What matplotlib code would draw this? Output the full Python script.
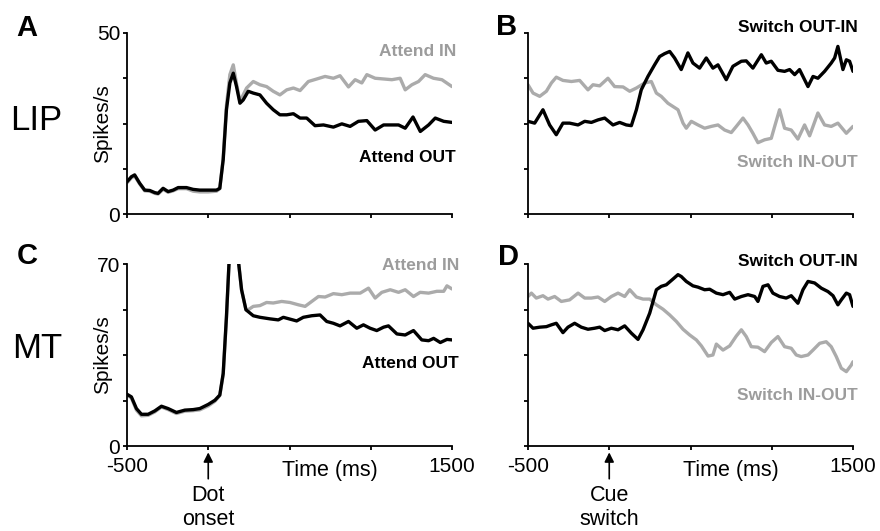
import matplotlib
matplotlib.use("Agg")
import matplotlib.pyplot as plt

plt.rcParams['font.family'] = ['Liberation Sans', 'DejaVu Sans']

# ---------------- data ----------------
A_black_t = [-500,-473,-453,-422,-391,-360,-329,-309,-278,-247,-216,-185,-134,-93,-52,0,51,71,92,112,
             133,154,174,195,215,246,277,318,359,400,441,483,524,565,606,657,709,770,822,873,
             924,976,1027,1079,1171,1212,1260,1305,1356,1397,1449,1500]
A_black_v = [8.9,10.3,10.8,8.5,6.6,6.5,5.9,5.7,7.1,6.2,6.6,7.3,7.3,6.8,6.6,6.6,6.6,7.1,15,28.8,
             36.2,38.9,35.2,30.6,31.5,33.9,33.4,32.9,30.6,28.8,27.4,27.4,27.7,26.5,26.5,24.4,24.6,24.0,24.9,24.2,
             25.6,25.8,23.2,24.6,24.6,23.7,26.8,22.8,24.6,26.5,25.6,25.3]
A_gray_t = [-500,-473,-453,-422,-391,-360,-329,-309,-278,-247,-216,-185,-134,-93,-52,0,51,71,92,112,
            133,154,174,195,236,277,318,359,400,441,483,524,565,616,668,719,770,811,863,904,
            945,976,1027,1079,1130,1181,1212,1253,1294,1335,1386,1438,1500]
A_gray_v = [8.6,10.0,10.5,8.3,6.4,6.3,5.7,5.5,6.8,6.0,6.4,7.0,7.0,6.3,6.1,6.1,6.3,7.0,15.5,30,
            38.5,41.2,36,31.1,34.8,36.6,35.7,35.2,33.9,32.9,34.3,34.8,34.1,36.6,37.3,38.0,37.5,38.2,35.1,37.1,
            36.2,38.5,37.5,37.3,37.1,37.5,34.3,35.7,36.6,38.5,37.5,37.1,35.2]

B_black_t = [-500,-459,-408,-367,-326,-285,-244,-192,-151,-110,-69,-28,23,64,105,136,167,197,238,279,
             310,341,372,402,443,484,515,556,597,638,669,720,761,813,843,884,936,966,997,1038,
             1079,1110,1141,1171,1223,1254,1284,1325,1366,1387,1407,1438,1459,1479,1500]
B_black_v = [25.6,25.1,28.8,24.6,21.9,25.1,25.1,24.6,25.6,25.3,26.0,26.5,24.6,25.3,24.6,24.4,28.8,34.3,38.0,41.2,
             43.5,44.3,44.9,43.1,39.9,44.5,41.7,40.3,43.1,40.3,41.2,37.1,40.8,42.2,42.3,40.3,44.0,41.7,42.2,39.7,
             39.4,39.9,38.5,39.9,35.2,38.0,37.5,39.4,41.7,43.1,46.3,39.9,42.6,42.2,39.4]
B_gray_t = [-500,-469,-428,-387,-356,-326,-285,-233,-182,-131,-100,-59,-8,33,85,126,167,218,259,290,
            320,361,392,423,454,474,505,546,587,628,669,710,751,782,823,854,884,915,956,997,
            1018,1048,1079,1120,1161,1202,1233,1284,1325,1366,1407,1459,1500]
B_gray_v = [35.7,33.4,32.5,33.9,36.2,37.8,36.9,36.6,36.9,34.3,35.7,35.4,37.5,35.2,35.1,33.9,34.8,36.2,36.6,33.4,
            32.5,30.6,29.7,28.8,25.1,23.7,25.6,24.6,23.7,24.2,24.6,23.2,22.5,24.2,26.5,24.6,22.3,19.7,20.5,20.9,
            24.2,28.8,23.7,23.2,20.7,24.6,21.6,27.9,24.6,24.2,25.1,22.3,24.2]

C_black_t = [-500,-473,-442,-411,-370,-329,-288,-247,-196,-144,-93,-52,0,41,71,92,112,129,150,184,
             205,232,277,318,380,431,462,503,544,585,637,688,729,770,811,863,914,955,996,1037,
             1079,1109,1161,1212,1263,1314,1356,1387,1428,1469,1500]
C_black_v = [19.9,18.9,14.4,12.2,12.2,13.5,15.3,14.4,12.9,13.8,14.0,14.4,16.0,17.6,19.6,27.9,49.8,72,95,72,
             60.1,52.4,50.1,49.5,48.9,48.5,49.5,48.8,48.1,49.5,50.1,50.4,47.9,47.2,46.2,47.9,45.3,46.6,45.3,44.4,
             45.7,46.2,43.1,42.7,44.4,40.8,40.5,41.4,39.8,41.0,40.8]
C_gray_t = [-500,-473,-442,-411,-370,-329,-288,-247,-196,-144,-93,-52,0,41,71,92,112,129,150,184,
            205,232,246,277,318,359,400,452,503,555,596,637,678,719,770,822,873,935,986,1027,
            1068,1120,1171,1212,1263,1304,1356,1407,1449,1469,1500]
C_gray_v = [19.5,18.5,13.8,11.6,11.8,13.1,15.0,14.0,12.5,13.4,13.6,13.9,15.4,17.2,19.4,27.5,49,72,95,72,
            60,52.4,52.4,53.7,54.0,55.2,55.0,55.6,55.2,54.3,53.7,55.6,57.5,57.3,58.6,58.2,58.8,58.8,60.7,56.9,
            59.1,60.1,59.1,60.1,57.5,59.1,58.8,59.5,59.5,61.6,60.4]

D_black_t = [-500,-469,-428,-387,-356,-326,-285,-254,-213,-172,-131,-90,-59,-28,13,54,95,136,177,208,
             249,290,320,351,392,423,443,474,515,546,587,618,659,700,741,772,813,854,895,915,
             946,977,1007,1048,1089,1120,1161,1192,1223,1264,1305,1346,1377,1407,1428,1459,1479,1500]
D_black_v = [47.2,45.3,45.7,45.9,46.6,47.2,43.6,45.7,47.2,45.7,44.9,45.3,45.7,44.4,45.3,44.7,46.2,43.4,41.0,44.7,
             51.1,60.1,61.4,62.0,64.2,65.9,65.2,63.3,61.6,61.1,60.1,60.3,58.8,58.2,59.1,56.5,57.5,58.2,57.5,55.6,
             61.4,62.0,58.8,57.5,56.9,57.8,54.9,60.1,63.3,62.7,60.7,59.4,57.8,54.3,56.2,58.8,58.2,53.7]
D_gray_t = [-500,-479,-449,-408,-377,-336,-295,-244,-192,-151,-110,-69,-28,13,54,95,126,167,208,249,
            290,331,372,413,454,495,536,567,608,638,659,700,741,782,813,843,874,915,956,997,
            1038,1079,1120,1151,1181,1223,1254,1295,1335,1366,1397,1428,1459,1489,1500]
D_gray_v = [57.5,58.8,56.9,57.8,56.5,57.5,55.6,56.2,58.8,56.9,56.9,57.3,55.6,57.5,58.8,57.5,60.1,57.3,56.5,56.5,
            54.3,52.6,50.4,47.9,44.9,42.7,40.8,38.5,34.6,35.0,39.2,36.9,38.5,42.3,44.7,42.1,38.2,38.0,36.3,39.8,
            42.1,38.2,37.6,35.0,34.4,35.0,36.9,39.5,40.1,38.2,34.4,29.9,28.6,31.1,32.4]

panel_letters = ["A", "B", "C", "D"]
row_labels = ["LIP", "MT"]
y_max = [50, 70]
x_ticks = [-500, 0, 500, 1000, 1500]
attend_labels = ["Attend IN", "Attend OUT"]
switch_labels = ["Switch OUT-IN", "Switch IN-OUT"]
event_labels = ["Dot\nonset", "Cue\nswitch"]

GRAY = "#ababab"
GRAY_TXT = "#9c9c9c"
W, H = 880, 531

fig = plt.figure(figsize=(8.8, 5.31), dpi=100)

def ax_rect(x0, y0, x1, y1):
    return [x0 / W, 1 - y1 / H, (x1 - x0) / W, (y1 - y0) / H]

axA = fig.add_axes(ax_rect(127, 33, 452, 214))
axB = fig.add_axes(ax_rect(528, 33, 853, 214))
axC = fig.add_axes(ax_rect(127, 264, 452, 446))
axD = fig.add_axes(ax_rect(528, 264, 853, 446))

series = [
    (axA, A_gray_t, A_gray_v, A_black_t, A_black_v, y_max[0]),
    (axB, B_gray_t, B_gray_v, B_black_t, B_black_v, y_max[0]),
    (axC, C_gray_t, C_gray_v, C_black_t, C_black_v, y_max[1]),
    (axD, D_gray_t, D_gray_v, D_black_t, D_black_v, y_max[1]),
]

for i, (ax, gt, gv, bt, bv, ym) in enumerate(series):
    ax.plot(gt, gv, color=GRAY, lw=2.4, solid_joinstyle='round', solid_capstyle='round')
    ax.plot(bt, bv, color='black', lw=2.4, solid_joinstyle='round', solid_capstyle='round')
    ax.set_xlim(-500, 1500)
    ax.set_ylim(0, ym)
    ax.spines['top'].set_visible(False)
    ax.spines['right'].set_visible(False)
    for s in ('left', 'bottom'):
        ax.spines[s].set_linewidth(1.3)
    ax.set_xticks(x_ticks)
    ax.set_yticks([ym * k / 4 for k in range(5)])
    ax.tick_params(direction='out', length=3, width=1.3, labelsize=15)
    ax.tick_params(axis='y', pad=2)
    ax.tick_params(axis='x', pad=5)
    left_col = i in (0, 2)
    bottom_row = i in (2, 3)
    if left_col:
        ax.set_yticklabels(["0", "", "", "", str(ym)])
        ax.set_ylabel("Spikes/s", fontsize=15, labelpad=-11)
    else:
        ax.set_yticklabels([])
    if bottom_row:
        ax.set_xticklabels(["-500", "", "", "", "1500"])
        ax.text(750, -0.075 * ym, "Time (ms)", ha='center', va='top', fontsize=15.5,
                clip_on=False)
        lbl = event_labels[0] if left_col else event_labels[1]
        ax.annotate("", xy=(0, -0.035 * ym), xytext=(0, -0.18 * ym),
                    xycoords='data', textcoords='data',
                    arrowprops=dict(arrowstyle='-|>', color='black', lw=1.2,
                                    mutation_scale=14, shrinkA=0, shrinkB=0),
                    annotation_clip=False)
        ax.text(0, -0.215 * ym, lbl, ha='center', va='top', fontsize=15.5,
                linespacing=1.15, clip_on=False)
    else:
        ax.set_xticklabels([])

# label texts
def ftext(x, y, s, **kw):
    fig.text(x / W, 1 - y / H, s, **kw)

for (x, y), s in zip([(27, 28), (507, 27), (27, 256), (508, 257)], panel_letters):
    ftext(x, y, s, ha='center', va='center', fontsize=21, fontweight='bold')
ftext(36, 120, row_labels[0], ha='center', va='center', fontsize=25)
ftext(37, 348, row_labels[1], ha='center', va='center', fontsize=25)

ftext(456, 52, attend_labels[0], ha='right', va='center', fontsize=12.5, fontweight='bold', color=GRAY_TXT)
ftext(456, 157, attend_labels[1], ha='right', va='center', fontsize=12.5, fontweight='bold', color='black')
ftext(459, 265, attend_labels[0], ha='right', va='center', fontsize=12.5, fontweight='bold', color=GRAY_TXT)
ftext(459, 364, attend_labels[1], ha='right', va='center', fontsize=12.5, fontweight='bold', color='black')

ftext(858, 27, switch_labels[0], ha='right', va='center', fontsize=12.5, fontweight='bold', color='black')
ftext(858, 162, switch_labels[1], ha='right', va='center', fontsize=12.5, fontweight='bold', color=GRAY_TXT)
ftext(858, 261, switch_labels[0], ha='right', va='center', fontsize=12.5, fontweight='bold', color='black')
ftext(858, 395, switch_labels[1], ha='right', va='center', fontsize=12.5, fontweight='bold', color=GRAY_TXT)

fig.savefig("out.png", dpi=100)
